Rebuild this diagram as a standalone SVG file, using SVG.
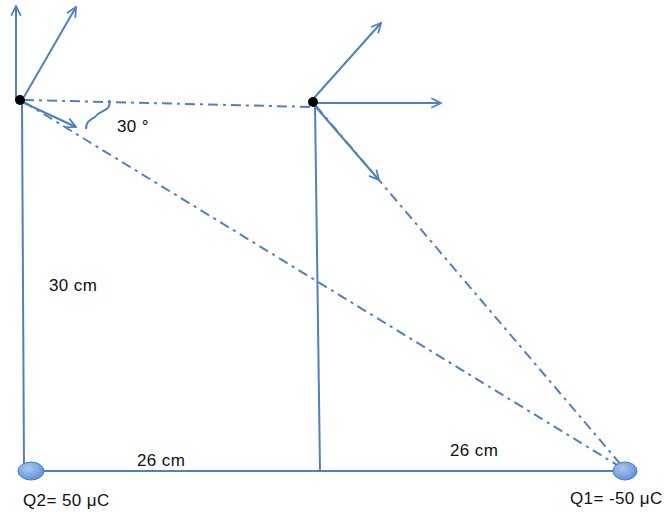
<svg xmlns="http://www.w3.org/2000/svg" width="664" height="513" viewBox="0 0 664 513">
<defs>
<marker id="ah" viewBox="0 0 10 10" refX="9" refY="5" markerWidth="6" markerHeight="6" orient="auto" markerUnits="strokeWidth">
<path d="M1,1 L9,5 L1,9" fill="none" stroke="#4f81bd" stroke-width="1.5"/>
</marker>
<radialGradient id="bg" cx="40%" cy="35%" r="70%">
<stop offset="0" stop-color="#a9c8ef"/>
<stop offset="1" stop-color="#5b8fd6"/>
</radialGradient>
<style>
.ln{stroke:#4f81bd;stroke-width:2;fill:none}
.dd{stroke:#4f81bd;stroke-width:2;fill:none;stroke-dasharray:10 5 3 5}
.ar{stroke:#4f81bd;stroke-width:2;fill:none;marker-end:url(#ah)}
.t{font-family:"Liberation Sans",Arial,sans-serif;font-size:17px;letter-spacing:0.4px;fill:#111}
.chg{fill:url(#bg);stroke:#4a7ebb;stroke-width:1}
</style>
</defs>
<rect width="664" height="513" fill="#fff"/>
<g id="connectors">
<line class="ln" x1="22" y1="100" x2="24" y2="471"/>
<line class="ln" x1="315" y1="104" x2="320" y2="471"/>
<line class="ln" x1="30" y1="471" x2="622" y2="471"/>
<line class="dd" x1="24" y1="100" x2="312" y2="107"/>
<line class="dd" x1="24" y1="102" x2="622" y2="468"/>
<line class="dd" x1="316" y1="106" x2="622" y2="466"/>
<line class="ar" x1="16" y1="100" x2="16" y2="6"/>
<line class="ar" x1="24" y1="97" x2="76" y2="7"/>
<line class="ar" x1="22" y1="102" x2="76" y2="127"/>
<line class="ar" x1="314" y1="98" x2="381" y2="23"/>
<line class="ar" x1="317" y1="103" x2="441" y2="103"/>
<line class="ar" x1="315" y1="106" x2="379" y2="180"/>
<path class="ln" d="M109,100 C112,111 101,110 97,115 C93,120 86,119 86,129"/>
</g>
<g id="p1"><circle cx="20" cy="100" r="5" fill="#000"/></g>
<g id="p2"><circle cx="313" cy="102" r="5" fill="#000"/></g>
<g id="q2"><ellipse class="chg" cx="31" cy="471" rx="13" ry="9"/><text class="t" x="23" y="506">Q2= 50 μC</text></g>
<g id="q1"><ellipse class="chg" cx="625" cy="471" rx="12" ry="9"/><text class="t" x="570" y="504">Q1= -50 μC</text></g>
<g id="labels">
<text class="t" x="117" y="132">30 °</text>
<text class="t" x="49" y="291">30 cm</text>
<text class="t" x="137" y="466">26 cm</text>
<text class="t" x="450" y="456">26 cm</text>
</g>
</svg>
